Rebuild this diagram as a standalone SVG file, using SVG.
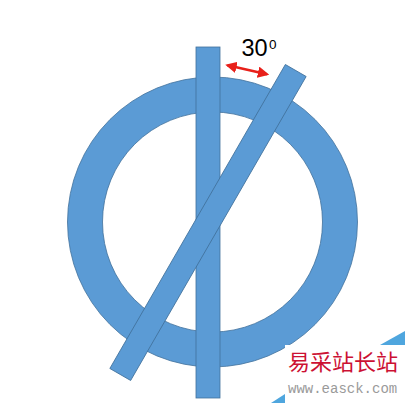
<svg xmlns="http://www.w3.org/2000/svg" width="405" height="403" viewBox="0 0 405 403">
  <style>
    .shape { fill: #5B9BD5; stroke: #41719C; stroke-width: 0.8; }
    .dim { stroke: #E8201A; stroke-width: 2.6; fill: none; }
  </style>
  <defs>
    <marker id="ah" viewBox="0 0 10 10" refX="8" refY="5" markerWidth="4.4" markerHeight="4.4" orient="auto-start-reverse" markerUnits="strokeWidth">
      <path d="M0,0 L10,5 L0,10 Z" fill="#E8201A"/>
    </marker>
  </defs>
  <rect width="405" height="403" fill="#FFFFFF"/>
  <g id="ring">
    <path class="shape" fill-rule="evenodd" d="M67.5,222 a145,145 0 1,0 290,0 a145,145 0 1,0 -290,0 Z M102.5,222 a110,110 0 1,0 220,0 a110,110 0 1,0 -220,0 Z"/>
  </g>
  <g id="vertical-bar">
    <rect class="shape" x="196" y="47" width="24" height="351"/>
  </g>
  <g id="diagonal-bar">
    <rect class="shape" x="196" y="47" width="24" height="351" transform="rotate(30 208 222.5)"/>
  </g>
  <g id="connectors">
    <line class="dim" x1="227.5" y1="65.3" x2="267" y2="74.2" marker-start="url(#ah)" marker-end="url(#ah)"/>
  </g>
  <g id="angle-label">
    <text x="241.5" y="56" font-family="'Liberation Sans', Arial, sans-serif" font-size="23.5" fill="#000000">30</text>
    <text x="269" y="48.5" font-family="'Liberation Sans', Arial, sans-serif" font-size="13.5" fill="#000000">0</text>
  </g>
  <g id="watermark">
    <rect x="285" y="345" width="120" height="58" fill="#FFFFFF"/>
    <polygon points="380,345 405,331 405,345" fill="#4FA6DE"/>
    <polygon points="271,403 285,394 285,403" fill="#4FA6DE"/>
    <text x="288" y="370" font-family="'Noto Sans CJK SC', sans-serif" font-size="22" fill="#CC1133">易采站长站</text>
    <text x="288" y="393" font-family="'Liberation Mono', 'Courier New', monospace" font-size="14" fill="#9A9A9A">www.easck.com</text>
  </g>
</svg>
